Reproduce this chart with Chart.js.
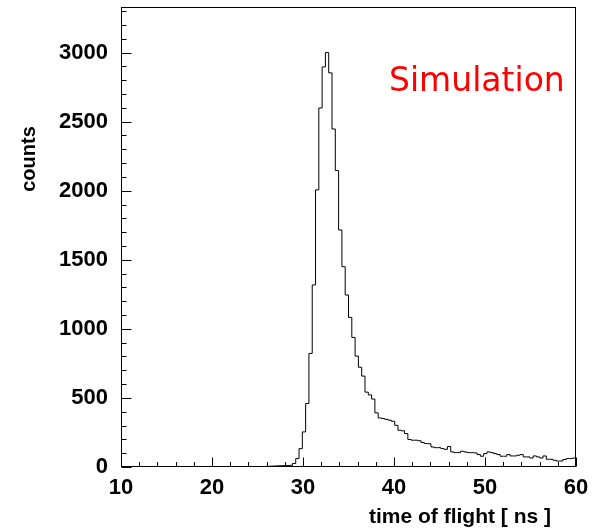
<!DOCTYPE html>
<html>
<head>
<meta charset="utf-8">
<script src="https://cdn.jsdelivr.net/npm/chart.js@4.4.1/dist/chart.umd.min.js"></script>
<style>
  body { margin: 0; background: #fff; }
  canvas { display: block; }
</style>
</head>
<body>
<canvas id="tof" width="595" height="530"></canvas>
<script>
// histogram binning (ns)
const binStart = 10;
const binWidth = 50 / 138;

// counts per bin
const counts = [
  0, 0, 0, 0, 0, 0, 0, 0, 0, 0,
  0, 0, 0, 0, 0, 0, 0, 0, 0, 0,
  0, 0, 0, 0, 0, 0, 0, 0, 0, 0,
  0, 0, 0, 0, 0, 0, 0, 0, 0, 0,
  1, 2, 2, 3, 5, 6, 7, 8, 9, 10,
  11, 12, 25, 61, 133, 254, 460, 822, 1318, 2006,
  2599, 2896, 3000, 2853, 2447, 2146, 1716, 1450, 1245, 1083,
  938, 803, 722, 658, 542, 522, 492, 392, 355, 351,
  345, 339, 331, 302, 266, 262, 242, 199, 194, 194,
  190, 177, 170, 168, 145, 140, 140, 133, 128, 148,
  109, 104, 104, 114, 109, 104, 104, 102, 90, 78,
  97, 109, 104, 97, 90, 78, 78, 90, 80, 80,
  85, 90, 73, 73, 65, 80, 73, 65, 80, 56,
  56, 49, 43, 43, 54, 61, 61, 65
];

const xTicks = [10, 20, 30, 40, 50, 60];
const yTicks = [0, 500, 1000, 1500, 2000, 2500, 3000];

const xTitle = 'time of flight [ ns ]';
const yTitle = 'counts';
const label = 'Simulation';

// step outline: one point at each bin's low edge, then drop to zero at the end
const points = counts.map((c, i) => ({ x: binStart + i * binWidth, y: c }));
points.push({ x: binStart + counts.length * binWidth, y: 0 });

const fontBold = '"Liberation Sans", Arial, sans-serif';

// ROOT-like frame with inward ticks plus the free-standing texts
const frameTicks = {
  id: 'frameTicks',
  afterDraw(chart) {
    const { ctx, chartArea: a, scales: { x, y } } = chart;
    ctx.save();
    ctx.strokeStyle = '#000';
    ctx.lineWidth = 1;
    const L = Math.round(a.left) + 0.5, R = Math.round(a.right) - 0.5;
    const T = Math.round(a.top) + 0.5, B = Math.round(a.bottom) - 0.5;
    ctx.strokeRect(L, T, R - L, B - T);

    ctx.beginPath();
    for (let v = 0; v <= y.max; v += 100) {
      const py = Math.round(y.getPixelForValue(v)) + 0.5;
      const len = v % 500 === 0 ? 10 : 5;
      ctx.moveTo(L, py);
      ctx.lineTo(L + len, py);
    }
    for (let t = x.min; t <= x.max; t += 2) {
      const px = Math.round(x.getPixelForValue(t)) + 0.5;
      const len = t % 10 === 0 ? 9 : 4.5;
      ctx.moveTo(px, B);
      ctx.lineTo(px, B - len);
    }
    ctx.stroke();

    ctx.fillStyle = '#000';
    ctx.font = 'bold 21px ' + fontBold;
    ctx.textAlign = 'right';
    ctx.textBaseline = 'alphabetic';
    ctx.fillText(xTitle, 551, 523);

    ctx.font = 'bold 20px ' + fontBold;
    ctx.save();
    ctx.translate(35, 159);
    ctx.rotate(-Math.PI / 2);
    ctx.textAlign = 'center';
    ctx.fillText(yTitle, 0, 0);
    ctx.restore();

    ctx.fillStyle = '#ff0000';
    ctx.font = '33px "DejaVu Sans", sans-serif';
    ctx.textAlign = 'left';
    ctx.fillText(label, 389, 91);
    ctx.restore();
  }
};

new Chart(document.getElementById('tof'), {
  type: 'line',
  data: {
    datasets: [{
      data: points,
      stepped: true,
      borderColor: '#000',
      borderWidth: 1,
      pointRadius: 0,
      fill: false
    }]
  },
  options: {
    responsive: false,
    animation: false,
    devicePixelRatio: 1,
    layout: { padding: { top: 7, right: 19, left: 0, bottom: 0 } },
    plugins: { legend: { display: false }, tooltip: { enabled: false } },
    scales: {
      x: {
        type: 'linear',
        min: 10,
        max: 60,
        afterFit: s => { s.height = 63; s.paddingLeft = 0; s.paddingRight = 0; },
        afterBuildTicks: s => { s.ticks = xTicks.map(v => ({ value: v })); },
        grid: { display: false, drawTicks: false },
        border: { display: false },
        ticks: { color: '#000', padding: 8, font: { family: fontBold, size: 22, weight: 'bold' }, callback: v => String(v) }
      },
      y: {
        min: 0,
        max: 3330,
        afterFit: s => { s.width = 121; s.paddingTop = 0; s.paddingBottom = 0; },
        afterBuildTicks: s => { s.ticks = yTicks.map(v => ({ value: v })); },
        grid: { display: false, drawTicks: false },
        border: { display: false },
        ticks: { color: '#000', padding: 13, font: { family: fontBold, size: 22, weight: 'bold' }, callback: v => String(v) }
      }
    }
  },
  plugins: [frameTicks]
});
</script>
</body>
</html>
